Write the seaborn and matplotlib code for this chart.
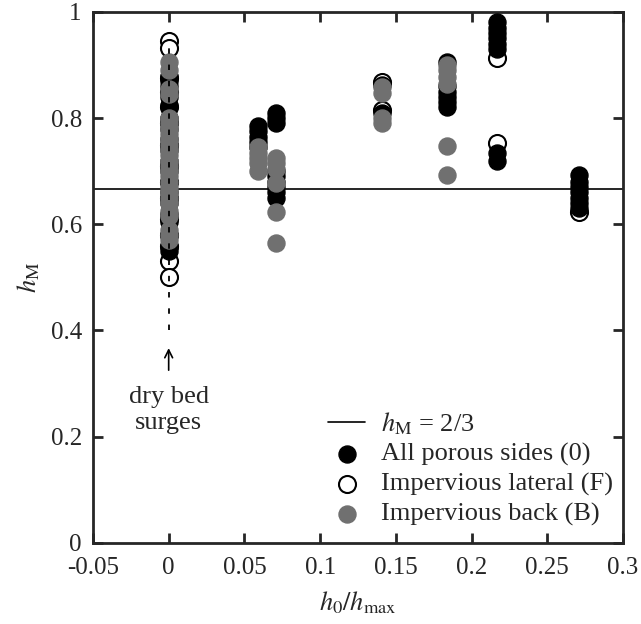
import matplotlib
matplotlib.use("Agg")
import matplotlib.pyplot as plt
import seaborn as sns
import pandas as pd

# ---- data ----
x_ticks = [-0.05, 0, 0.05, 0.1, 0.15, 0.2, 0.25, 0.3]
x_tick_labels = ["-0.05", "0", "0.05", "0.1", "0.15", "0.2", "0.25", "0.3"]
y_ticks = [0, 0.2, 0.4, 0.6, 0.8, 1.0]
y_tick_labels = ["0", "0.2", "0.4", "0.6", "0.8", "1"]

porous_x = ([0.0] * 19 + [0.059] * 5 + [0.071] * 9 + [0.141] * 2 +
            [0.184] * 6 + [0.217] * 8 + [0.271] * 7)
porous_y = [0.88, 0.87, 0.86, 0.84, 0.825, 0.80, 0.78, 0.76, 0.74, 0.72,
            0.70, 0.68, 0.66, 0.64, 0.62, 0.605, 0.58, 0.557, 0.55,
            0.785, 0.775, 0.765, 0.755, 0.745,
            0.81, 0.80, 0.79, 0.70, 0.69, 0.68, 0.67, 0.66, 0.65,
            0.863, 0.81,
            0.905, 0.86, 0.85, 0.84, 0.83, 0.82,
            0.98, 0.97, 0.96, 0.95, 0.94, 0.93, 0.735, 0.72,
            0.693, 0.68, 0.67, 0.66, 0.65, 0.64, 0.63]

lateral_x = [0.0] * 15 + [0.141] * 2 + [0.217] * 2 + [0.271] * 1
lateral_y = [0.945, 0.932, 0.875, 0.85, 0.82, 0.79, 0.75, 0.71, 0.68, 0.65,
             0.61, 0.58, 0.56, 0.53, 0.50,
             0.868, 0.815,
             0.913, 0.753,
             0.623]

back_x = [0.0] * 26 + [0.059] * 5 + [0.071] * 6 + [0.141] * 4 + [0.184] * 6
back_y = [0.905, 0.89, 0.855, 0.845, 0.80, 0.79, 0.78, 0.77, 0.76, 0.75,
          0.74, 0.73, 0.72, 0.71, 0.70, 0.69, 0.68, 0.67, 0.66, 0.65,
          0.64, 0.625, 0.615, 0.59, 0.58, 0.57,
          0.745, 0.735, 0.725, 0.715, 0.70,
          0.725, 0.715, 0.705, 0.678, 0.623, 0.565,
          0.858, 0.848, 0.80, 0.79,
          0.90, 0.89, 0.877, 0.865, 0.748, 0.693]

h_ref = 2 / 3
label_ref = r"$h_{\mathrm{M}}$ = 2/3"
label_porous = "All porous sides (0)"
label_lateral = "Impervious lateral (F)"
label_back = "Impervious back (B)"

# ---- style ----
sns.set_style("ticks")
plt.rcParams["font.family"] = ["Liberation Serif", "DejaVu Serif"]
plt.rcParams["mathtext.fontset"] = "stix"
plt.rcParams["font.size"] = 18

fig = plt.figure(figsize=(6.41, 6.24), dpi=100)
ax = fig.add_axes([0.145, 0.130, 0.827, 0.851])

df_p = pd.DataFrame({"x": porous_x, "y": porous_y})
df_l = pd.DataFrame({"x": lateral_x, "y": lateral_y})
df_b = pd.DataFrame({"x": back_x, "y": back_y})

ax.axhline(h_ref, color="black", lw=1.2, zorder=1, label=label_ref)

sns.scatterplot(data=df_l, x="x", y="y", ax=ax, s=150, color="white",
                edgecolor="black", linewidth=1.5, zorder=2, label=label_lateral)
sns.scatterplot(data=df_p, x="x", y="y", ax=ax, s=150, color="black",
                edgecolor="black", linewidth=1.0, zorder=3, label=label_porous)
sns.scatterplot(data=df_b, x="x", y="y", ax=ax, s=150, color="#707070",
                edgecolor="#707070", linewidth=1.0, zorder=4, label=label_back)

# dashed vertical line for dry bed surges
ax.plot([0, 0], [0.40, 0.95], color="black", lw=1.3,
        linestyle=(0, (3, 6)), zorder=5)
ax.annotate("", xy=(0, 0.372), xytext=(0, 0.320),
            arrowprops=dict(arrowstyle="->", color="black", lw=1.2,
                            mutation_scale=14))
ax.text(0, 0.295, "dry bed\nsurges", ha="center", va="top", fontsize=19,
        linespacing=1.2)

ax.set_xlim(-0.05, 0.3)
ax.set_ylim(0, 1)
ax.set_xticks(x_ticks)
ax.set_xticklabels(x_tick_labels)
ax.set_yticks(y_ticks)
ax.set_yticklabels(y_tick_labels)
ax.tick_params(direction="in", length=7, width=2, top=True, right=True,
               labelsize=18, pad=8)
ax.tick_params(axis="x", pad=10)
for sp in ax.spines.values():
    sp.set_linewidth(2)
    sp.set_visible(True)

ax.set_xlabel(r"$h_0/h_{\mathrm{max}}$", fontsize=19, labelpad=8)
ax.set_ylabel(r"$h_{\mathrm{M}}$", fontsize=19, labelpad=6)

handles, labels = ax.get_legend_handles_labels()
order = [label_ref, label_porous, label_lateral, label_back]
hmap = dict(zip(labels, handles))
ax.legend([hmap[k] for k in order], order, loc="lower right",
          bbox_to_anchor=(0.981, 0.032), frameon=False, fontsize=19,
          handlelength=1.4, handletextpad=0.6, labelspacing=0.22,
          borderpad=0.0, borderaxespad=0.0)

fig.savefig("out.png", dpi=100)
